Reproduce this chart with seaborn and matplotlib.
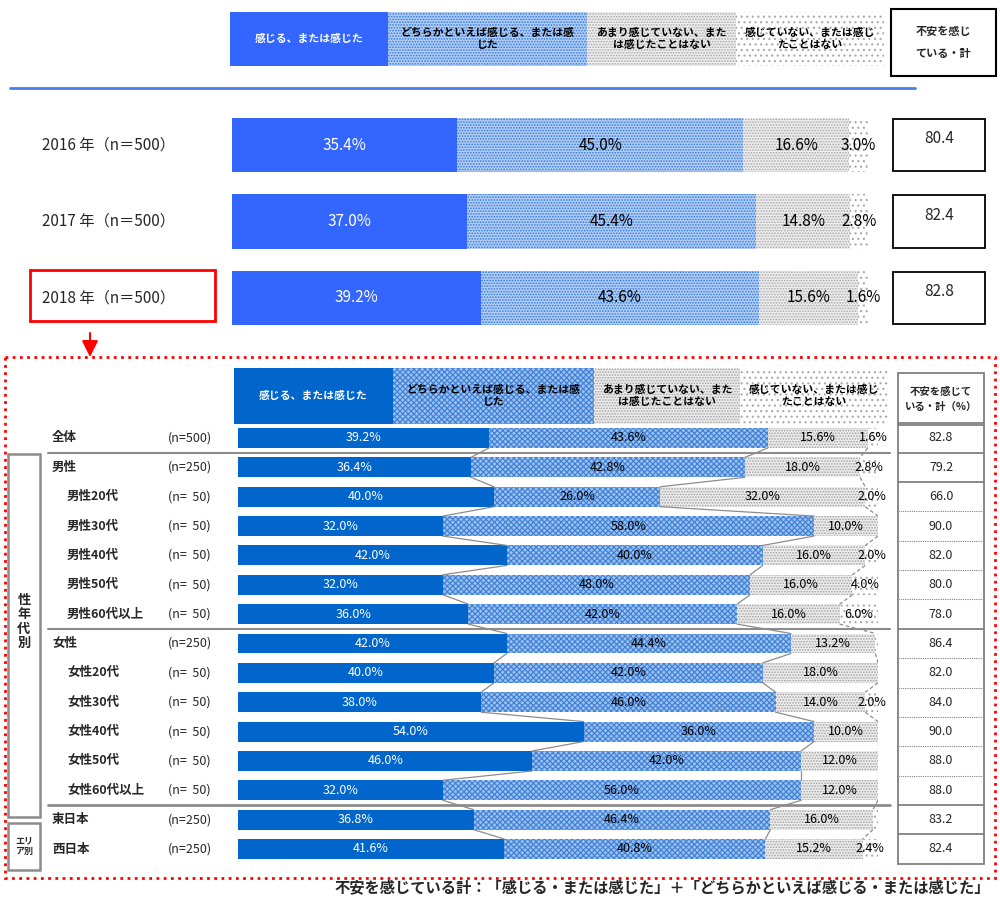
import numpy as np
import pandas as pd
import matplotlib
matplotlib.use('Agg')
import matplotlib.pyplot as plt
import matplotlib.transforms as mtrans
from matplotlib.patches import Rectangle
import seaborn as sns

sns.set_theme(style='white')
plt.rcParams['font.family'] = ['Noto Sans CJK JP', 'DejaVu Sans']
plt.rcParams['hatch.linewidth'] = 0.8

# ---------------- data ----------------
categories = ['感じる、または感じた',
              'どちらかといえば感じる、または感\nじた',
              'あまり感じていない、また\nは感じたことはない',
              '感じていない、または感じ\nたことはない']
total_title_top = '不安を感じ\nている・計'
total_title_bottom = '不安を感じて\nいる・計（%）'

year_labels = ['2016 年（n＝500）', '2017 年（n＝500）', '2018 年（n＝500）']
year_v1 = [35.4, 37.0, 39.2]
year_v2 = [45.0, 45.4, 43.6]
year_v3 = [16.6, 14.8, 15.6]
year_v4 = [3.0, 2.8, 1.6]
year_total = [80.4, 82.4, 82.8]

seg_labels = ['全体', '男性', '男性20代', '男性30代', '男性40代', '男性50代', '男性60代以上',
              '女性', '女性20代', '女性30代', '女性40代', '女性50代', '女性60代以上',
              '東日本', '西日本']
seg_indent = [0, 0, 1, 1, 1, 1, 1, 0, 1, 1, 1, 1, 1, 0, 0]
seg_n = ['(n=500)', '(n=250)', '(n=  50)', '(n=  50)', '(n=  50)', '(n=  50)', '(n=  50)',
         '(n=250)', '(n=  50)', '(n=  50)', '(n=  50)', '(n=  50)', '(n=  50)',
         '(n=250)', '(n=250)']
seg_v1 = [39.2, 36.4, 40.0, 32.0, 42.0, 32.0, 36.0, 42.0, 40.0, 38.0, 54.0, 46.0, 32.0, 36.8, 41.6]
seg_v2 = [43.6, 42.8, 26.0, 58.0, 40.0, 48.0, 42.0, 44.4, 42.0, 46.0, 36.0, 42.0, 56.0, 46.4, 40.8]
seg_v3 = [15.6, 18.0, 32.0, 10.0, 16.0, 16.0, 16.0, 13.2, 18.0, 14.0, 10.0, 12.0, 12.0, 16.0, 15.2]
seg_v4 = [1.6, 2.8, 2.0, 0.0, 2.0, 4.0, 6.0, 0.4, 0.0, 2.0, 0.0, 0.0, 0.0, 0.8, 2.4]
seg_total = [82.8, 79.2, 66.0, 90.0, 82.0, 80.0, 78.0, 86.4, 82.0, 84.0, 90.0, 88.0, 88.0, 83.2, 82.4]

footnote = '不安を感じている計：「感じる・または感じた」＋「どちらかといえば感じる・または感じた」'

# ---------------- styles ----------------
W, H = 1000, 899
BLUE_TOP = '#3366FF'
BLUE_BOT = '#0066CC'
style_top = [
    dict(color=BLUE_TOP, hatch=None, edgecolor=BLUE_TOP),
    dict(color='#B3CDF3', hatch='......', edgecolor='#2E78DE'),
    dict(color='#EDEDED', hatch='......', edgecolor='#A8A8A8'),
    dict(color='#FFFFFF', hatch='...', edgecolor='#A8A8A8'),
]
style_bot = [
    dict(color=BLUE_BOT, hatch=None, edgecolor=BLUE_BOT),
    dict(color='#9CC0EC', hatch='xxxxxx', edgecolor='#3C7FD8'),
    dict(color='#EDEDED', hatch='......', edgecolor='#A0A0A0'),
    dict(color='#FFFFFF', hatch='...', edgecolor='#A8A8A8'),
]

fig = plt.figure(figsize=(W / 100, H / 100), dpi=100)
fig.patch.set_facecolor('white')

# overlay axes in pixel coordinates for decorations
ov = fig.add_axes([0, 0, 1, 1])
ov.set_xlim(0, W)
ov.set_ylim(H, 0)
ov.axis('off')


def add_data_axes(x0, x1, ytop, ybot):
    return fig.add_axes([x0 / W, 1 - ybot / H, (x1 - x0) / W, (ybot - ytop) / H])


def draw_stacked(ax, labels, vals, styles, width):
    cums = np.cumsum(np.array(vals), axis=0)
    df = pd.DataFrame({'label': labels})
    for k in range(3, -1, -1):
        df['cum'] = cums[k]
        st = styles[k]
        sns.barplot(data=df, x='cum', y='label', orient='h', ax=ax, color=st['color'],
                    saturation=1, width=width, errorbar=None, hatch=st['hatch'],
                    edgecolor=st['edgecolor'], linewidth=0)
    ax.set_xlim(0, 100)
    ax.set_ylim(len(labels) - 0.5, -0.5)
    ax.axis('off')
    ax.patch.set_alpha(0)
    return cums


def legend_row(x_edges, y0, y1, styles, fs):
    for k in range(4):
        st = styles[k]
        r = Rectangle((x_edges[k], y0), x_edges[k + 1] - x_edges[k], y1 - y0,
                      facecolor=st['color'], hatch=st['hatch'], edgecolor=st['edgecolor'],
                      linewidth=0)
        ov.add_patch(r)
        ov.text((x_edges[k] + x_edges[k + 1]) / 2, (y0 + y1) / 2, categories[k],
                ha='center', va='center', fontsize=fs, fontweight='bold',
                color='white' if k == 0 else 'black', linespacing=1.3)


# ================= top section =================
legend_row([230, 388, 587, 736, 884], 12, 66, style_top, 7.8)
ov.add_patch(Rectangle((891, 9), 105, 67, facecolor='white', edgecolor='black', linewidth=1.5))
ov.text(943, 42, total_title_top, ha='center', va='center', fontsize=8, fontweight='bold',
        linespacing=1.9)
ov.plot([10, 915], [88, 88], color='#4A7BF0', lw=2)

axT = add_data_axes(232, 868, 145 - 38.25, 298 + 38.25)
cumT = draw_stacked(axT, year_labels, [year_v1, year_v2, year_v3, year_v4], style_top, 0.706)
trT = mtrans.blended_transform_factory(ov.transData, axT.transData)
valsT = [year_v1, year_v2, year_v3, year_v4]
for i, lab in enumerate(year_labels):
    ov.text(42, i, lab, transform=trT, ha='left', va='center', fontsize=11)
    for k in range(4):
        v = valsT[k][i]
        left = cumT[k][i] - v
        axT.text(left + v / 2, i, f'{v:.1f}%', ha='center', va='center', fontsize=11,
                 color='white' if k == 0 else 'black')
    ov.add_patch(Rectangle((893, i - 0.34), 92, 0.68, transform=trT, facecolor='white',
                           edgecolor='black', linewidth=1.3))
    ov.text(939, i - 0.08, f'{year_total[i]:.1f}', transform=trT, ha='center', va='center',
            fontsize=11)

# red highlight box around 2018 + arrow
ov.add_patch(Rectangle((30, 2 - 0.36), 185, 0.66, transform=trT, facecolor='none',
                       edgecolor='#FF0000', linewidth=2))
ov.annotate('', xy=(90, 357), xytext=(90, 333),
            arrowprops=dict(arrowstyle='-|>,head_length=0.7,head_width=0.35', color='#FF0000',
                            lw=1.5, mutation_scale=14, shrinkA=0, shrinkB=0))

# ================= bottom section =================
ov.add_patch(Rectangle((5, 357), 990, 521, facecolor='none', edgecolor='#FF0000',
                       linewidth=2, linestyle=(0, (1, 1.6))))
legend_row([234, 393, 594, 740, 888], 368, 424, style_bot, 7.8)
ov.add_patch(Rectangle((898, 373), 86, 52, facecolor='white', edgecolor='#808080', linewidth=1.3))
ov.text(941, 399, total_title_bottom, ha='center', va='center', fontsize=7.5, fontweight='bold',
        linespacing=1.6)

nrow = len(seg_labels)
sp = (849 - 438) / (nrow - 1)
axB = add_data_axes(238, 878, 438 - sp / 2, 849 + sp / 2)
barw = 0.68
valsB = [seg_v1, seg_v2, seg_v3, seg_v4]
cumB = draw_stacked(axB, seg_labels, valsB, style_bot, barw)
trB = mtrans.blended_transform_factory(ov.transData, axB.transData)

# series connector lines
for k in range(3):
    for i in range(nrow - 1):
        axB.plot([cumB[k][i], cumB[k][i + 1]], [i + barw / 2, i + 1 - barw / 2],
                 color='#8C8C8C', lw=0.9, ls='-' if k < 2 else (0, (3, 2)), zorder=1)

for i, lab in enumerate(seg_labels):
    ov.text(52 + 15 * seg_indent[i], i, lab, transform=trB, ha='left', va='center',
            fontsize=9, fontweight='bold')
    ov.text(168, i, seg_n[i], transform=trB, ha='left', va='center', fontsize=9)
    for k in range(4):
        v = valsB[k][i]
        if v < 1:
            continue
        left = cumB[k][i] - v
        axB.text(left + v / 2, i, f'{v:.1f}%', ha='center', va='center', fontsize=9,
                 color='white' if k == 0 else 'black')
    ov.text(941, i, f'{seg_total[i]:.1f}', transform=trB, ha='center', va='center', fontsize=9)

# right total cells
solid_edges = {0, 1, 2, 7, 13, 14, 15}
ov.plot([898, 898], [-0.5, nrow - 0.5], transform=trB, color='#808080', lw=1.3)
ov.plot([984, 984], [-0.5, nrow - 0.5], transform=trB, color='#808080', lw=1.3)
for e in range(nrow + 1):
    y = e - 0.5
    if e in solid_edges or e == 13:
        ov.plot([898, 984], [y, y], transform=trB, color='#808080', lw=1.3)
    else:
        ov.plot([898, 984], [y, y], transform=trB, color='#808080', lw=0.8, ls=(0, (1, 1)))

# group separators
for e, lw in [(1, 1.5), (7, 1.5), (13, 2.0)]:
    ov.plot([48, 890], [e - 0.5, e - 0.5], transform=trB, color='#8C8C8C', lw=lw)

# group boxes on the left
ov.add_patch(Rectangle((8, 0.55), 32, 12.35, transform=trB, facecolor='white',
                       edgecolor='#8C8C8C', linewidth=1.8))
ov.text(24, 6.25, '性\n年\n代\n別', transform=trB, ha='center', va='center', fontsize=9.5,
        fontweight='bold', linespacing=1.05)
ov.add_patch(Rectangle((8, 13.1), 32, 1.6, transform=trB, facecolor='white',
                       edgecolor='#8C8C8C', linewidth=1.8))
ov.text(24, 13.9, 'エリ\nア別', transform=trB, ha='center', va='center', fontsize=6.5,
        fontweight='bold', linespacing=1.2)

# footnote
ov.text(990, 887, footnote, ha='right', va='center', fontsize=11, fontweight='bold')

fig.savefig('out.png', dpi=100, facecolor='white')
